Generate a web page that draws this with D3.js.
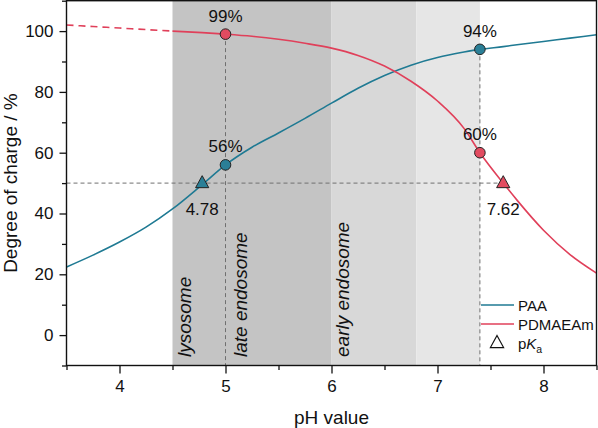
<!DOCTYPE html>
<html><head><meta charset="utf-8">
<script src="https://cdn.jsdelivr.net/npm/d3@7"></script>
<style>
html,body{margin:0;padding:0;background:#fff;}
svg{display:block;font-family:"Liberation Sans",Arial,sans-serif;}
</style></head>
<body><svg id="c" width="598" height="428"></svg>
<script>
// ---- data ----
const pH = [3.5, 3.75, 4.0, 4.25, 4.5, 4.78, 5.0, 5.25, 5.5, 5.75, 6.0, 6.25, 6.5, 6.75, 7.0, 7.25, 7.4, 7.62, 7.75, 8.0, 8.25, 8.5];
const paa = [22.4, 26.3, 30.6, 35.5, 41.5, 49.5, 56.0, 61.8, 66.5, 71.3, 76.3, 81.2, 85.4, 88.8, 91.3, 93.1, 94.0, 94.9, 95.5, 96.6, 97.7, 98.8];
const pdmaeam = [102.0, 101.5, 101.0, 100.5, 100.0, 99.5, 99.0, 98.3, 97.3, 96.0, 94.4, 92.0, 88.5, 83.5, 77.0, 68.0, 60.0, 50.0, 44.4, 34.5, 26.5, 20.4];
const dashedUntil = 4.5;          // PDMAEAm drawn dashed below this pH
const regions = [                 // shaded pH ranges
  {from: 4.5, to: 6.0, fill: "#c4c4c4"},
  {from: 6.0, to: 6.8, fill: "#d8d8d8"},
  {from: 6.8, to: 7.4, fill: "#e6e6e6"}
];
const regionLabels = [{pH: 4.5, text: "lysosome", dx: 18}, {pH: 5.0, text: "late endosome", dx: 21}, {pH: 6.0, text: "early endosome", dx: 17}];
const points = [
  {pH: 5.0, v: 99, series: "red", label: "99%"},
  {pH: 5.0, v: 56, series: "teal", label: "56%"},
  {pH: 7.4, v: 94, series: "teal", label: "94%"},
  {pH: 7.4, v: 60, series: "red", label: "60%"}
];
const pKas = [{pH: 4.78, v: 50, series: "teal", label: "4.78"}, {pH: 7.62, v: 50, series: "red", label: "7.62"}];
const xMajor = [4, 5, 6, 7, 8];
const xMinor = [3.5, 4.5, 5.5, 6.5, 7.5, 8.5];
const yMajor = [0, 20, 40, 60, 80, 100];
const yMinor = [-10, 10, 30, 50, 70, 90, 110];

// ---- layout ----
const COL = {teal: "#1f7a93", red: "#e0405a", tealFill: "#2a7f97", redFill: "#e24b60"};
const svg = d3.select("#c");
const x = d3.scaleLinear().domain([3.5, 8.5]).range([66.5, 596.5]);
const y = d3.scaleLinear().domain([-10, 110]).range([365.5, 0.7]);
const [x0, x1] = x.range(), [yb, yt] = y.range();

svg.append("defs").append("clipPath").attr("id", "clip")
  .append("rect").attr("x", x0).attr("y", yt).attr("width", x1 - x0).attr("height", yb - yt);

// shaded regions
svg.append("g").selectAll("rect").data(regions).join("rect")
  .attr("x", d => x(d.from)).attr("width", d => x(d.to) - x(d.from))
  .attr("y", yt).attr("height", yb - yt).attr("fill", d => d.fill);

// region labels
svg.append("g").selectAll("text").data(regionLabels).join("text")
  .attr("transform", d => `translate(${x(d.pH) + d.dx},357) rotate(-90)`)
  .attr("font-size", 19).attr("font-style", "italic").attr("fill", "#111")
  .text(d => d.text);

// guide dashed lines
const g = svg.append("g").attr("stroke", "#707070").attr("stroke-width", 1).attr("stroke-dasharray", "4,3").attr("fill", "none");
g.append("line").attr("x1", x0).attr("x2", x(7.62)).attr("y1", y(50)).attr("y2", y(50));
g.append("line").attr("x1", x(5.0)).attr("x2", x(5.0)).attr("y1", y(99)).attr("y2", yb);
g.append("line").attr("x1", x(7.4)).attr("x2", x(7.4)).attr("y1", y(94)).attr("y2", yb);

// curves
const line = d3.line().x(d => x(d[0])).y(d => y(d[1])).curve(d3.curveMonotoneX);
const paaData = pH.map((p, i) => [p, paa[i]]);
const redData = pH.map((p, i) => [p, pdmaeam[i]]);
const cg = svg.append("g").attr("clip-path", "url(#clip)").attr("fill", "none").attr("stroke-width", 1.6);
cg.append("path").attr("d", line(paaData)).attr("stroke", COL.teal);
cg.append("path").attr("d", line(redData.filter(d => d[0] <= dashedUntil))).attr("stroke", COL.red).attr("stroke-dasharray", "7,5");
cg.append("path").attr("d", line(redData.filter(d => d[0] >= dashedUntil))).attr("stroke", COL.red);

// points
svg.append("g").selectAll("circle").data(points).join("circle")
  .attr("cx", d => x(d.pH)).attr("cy", d => y(d.v)).attr("r", 5.3)
  .attr("fill", d => d.series === "teal" ? COL.tealFill : COL.redFill)
  .attr("stroke", "#222").attr("stroke-width", 1);
svg.append("g").selectAll("text").data(points).join("text")
  .attr("x", d => x(d.pH)).attr("y", d => y(d.v) - 12.5).attr("text-anchor", "middle")
  .attr("font-size", 17).attr("fill", "#111").text(d => d.label);

// pKa triangles
const tri = (cx, cy, s) => `M${cx},${cy - s * 0.62}L${cx + s * 0.55},${cy + s * 0.38}L${cx - s * 0.55},${cy + s * 0.38}Z`;
svg.append("g").selectAll("path").data(pKas).join("path")
  .attr("d", d => tri(x(d.pH), y(d.v), 12))
  .attr("fill", d => d.series === "teal" ? COL.tealFill : COL.redFill)
  .attr("stroke", "#222").attr("stroke-width", 1);
svg.append("g").selectAll("text").data(pKas).join("text")
  .attr("x", d => x(d.pH)).attr("y", d => y(d.v) + 32).attr("text-anchor", "middle")
  .attr("font-size", 17).attr("fill", "#111").text(d => d.label);

// axes
function styleAxis(sel) { sel.select(".domain").remove(); sel.selectAll("line").attr("stroke", "#111").attr("stroke-width", 1.3); sel.selectAll("text").attr("font-size", 17).attr("fill", "#111").attr("font-family", "Liberation Sans, Arial, sans-serif"); }
svg.append("g").attr("transform", `translate(0,${yb})`).call(d3.axisBottom(x).tickValues(xMajor).tickSize(8).tickPadding(6).tickFormat(d3.format("d"))).call(styleAxis);
svg.append("g").attr("transform", `translate(0,${yb})`).call(d3.axisBottom(x).tickValues(xMinor).tickSize(4.5).tickFormat("")).call(styleAxis);
svg.append("g").attr("transform", `translate(${x0},0)`).call(d3.axisLeft(y).tickValues(yMajor).tickSize(7).tickPadding(6).tickFormat(d3.format("d"))).call(styleAxis);
svg.append("g").attr("transform", `translate(${x0},0)`).call(d3.axisLeft(y).tickValues(yMinor).tickSize(4.5).tickFormat("")).call(styleAxis);

// frame
svg.append("rect").attr("x", x0).attr("y", yt).attr("width", x1 - x0).attr("height", yb - yt)
  .attr("fill", "none").attr("stroke", "#111").attr("stroke-width", 1.4);

// axis titles
svg.append("text").attr("x", (x0 + x1) / 2).attr("y", 424).attr("text-anchor", "middle").attr("font-size", 19).attr("fill", "#111").text("pH value");
svg.append("text").attr("transform", `translate(17,${(yt + yb) / 2}) rotate(-90)`).attr("text-anchor", "middle").attr("font-size", 19).attr("fill", "#111").text("Degree of charge / %");

// legend
const legendItems = [{name: "PAA", color: COL.teal, y: 305}, {name: "PDMAEAm", color: COL.red, y: 324}];
const lg = svg.append("g");
lg.selectAll("line").data(legendItems).join("line")
  .attr("x1", 481).attr("x2", 514).attr("y1", d => d.y).attr("y2", d => d.y).attr("stroke", d => d.color).attr("stroke-width", 1.6);
lg.selectAll("text.l").data(legendItems).join("text").attr("class", "l")
  .attr("x", 518).attr("y", d => d.y + 5.5).attr("font-size", 15).attr("fill", "#111").text(d => d.name);
lg.append("path").attr("d", tri(497, 343, 12)).attr("fill", "none").attr("stroke", "#111").attr("stroke-width", 1.2);
const pk = lg.append("text").attr("x", 518).attr("y", 349).attr("font-size", 15).attr("fill", "#111");
pk.append("tspan").text("p");
pk.append("tspan").attr("font-style", "italic").text("K");
pk.append("tspan").attr("font-size", 10.5).attr("dy", 4).text("a");
</script></body></html>
